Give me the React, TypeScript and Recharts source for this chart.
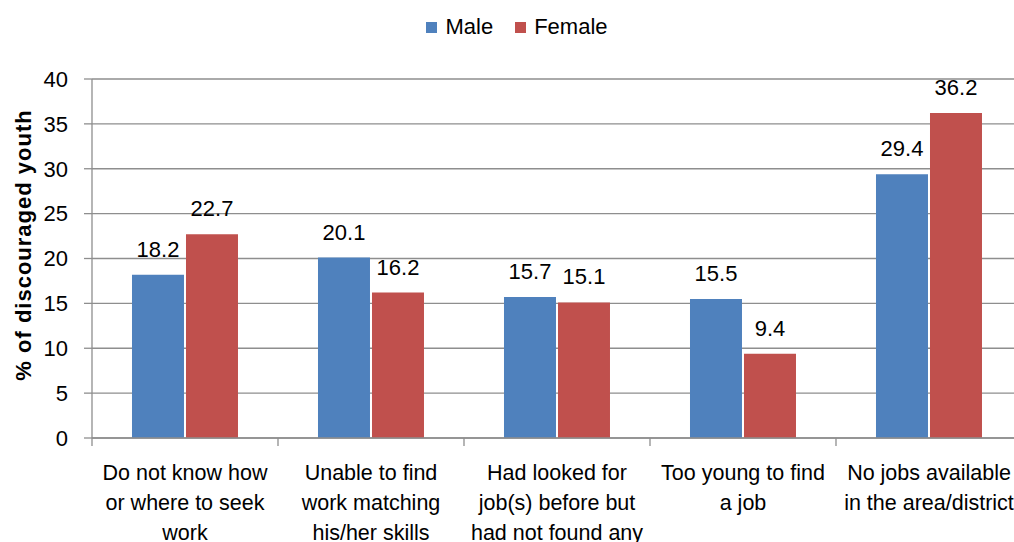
import { BarChart, Bar, XAxis, YAxis, CartesianGrid, Legend, LabelList } from 'recharts';

const categories = [
  'Do not know how or where to seek work',
  'Unable to find work matching his/her skills',
  'Had looked for job(s) before but had not found any',
  'Too young to find a job',
  'No jobs available in the area/district',
];

// wrapped the way the original axis wraps them
const categoryLines: string[][] = [
  ['Do not know how', 'or where to seek', 'work'],
  ['Unable to find', 'work matching', 'his/her skills'],
  ['Had looked for', 'job(s) before but', 'had not found any'],
  ['Too young to find', 'a job'],
  ['No jobs available', 'in the area/district'],
];

const maleValues = [18.2, 20.1, 15.7, 15.5, 29.4];
const femaleValues = [22.7, 16.2, 15.1, 9.4, 36.2];

const yTicks = [0, 5, 10, 15, 20, 25, 30, 35, 40];

const data = categories.map((name, i) => ({
  name,
  male: maleValues[i],
  female: femaleValues[i],
}));

const MALE = '#4F81BD';
const FEMALE = '#C0504D';
const GRID = '#8E8E8E';
const FONT = '"Liberation Sans", Arial, sans-serif';

const CHART_W = 1030;
const MARGIN = { top: 79, right: 8, bottom: 0, left: 0 };
const BAND = (CHART_W - MARGIN.right - 92) / categories.length;

function CategoryTick(props: any) {
  const { x, payload, index } = props;
  const lines: string[] = categoryLines[index] || [payload.value];
  const axisY = 438;
  return (
    <g>
      <line x1={x - BAND / 2} y1={axisY} x2={x - BAND / 2} y2={axisY + 8} stroke={GRID} strokeWidth={1.3} />
      {index === categories.length - 1 && (
        <line x1={x + BAND / 2} y1={axisY} x2={x + BAND / 2} y2={axisY + 8} stroke={GRID} strokeWidth={1.3} />
      )}
      {lines.map((l, i) => (
        <text key={i} x={x} y={axisY + 42 + i * 30} textAnchor="middle" fontSize={21.5} fill="#000" fontFamily={FONT}>
          {l}
        </text>
      ))}
    </g>
  );
}

function LegendContent() {
  const items = [
    { label: 'Male', color: MALE },
    { label: 'Female', color: FEMALE },
  ];
  return (
    <div style={{ display: 'flex', justifyContent: 'center', fontFamily: FONT, fontSize: 22, color: '#000' }}>
      {items.map((it) => (
        <div key={it.label} style={{ display: 'flex', alignItems: 'center', margin: '0 11px' }}>
          <span style={{ width: 11, height: 11, background: it.color, display: 'inline-block', marginRight: 8 }} />
          <span>{it.label}</span>
        </div>
      ))}
    </div>
  );
}

function YLabel() {
  const cx = 23;
  const cy = 245;
  return (
    <text
      x={cx}
      y={cy}
      transform={`rotate(-90, ${cx}, ${cy})`}
      textAnchor="middle"
      dominantBaseline="central"
      fontSize={22}
      fontWeight="bold"
      letterSpacing={1}
      fontFamily={FONT}
      fill="#000"
    >
      % of discouraged youth
    </text>
  );
}

export default function App() {
  return (
    <div style={{ position: 'absolute', left: 0, top: 0, width: 1014, height: 542, overflow: 'hidden', background: '#fff' }}>
      <BarChart
        width={CHART_W}
        height={542}
        data={data}
        margin={MARGIN}
        barCategoryGap="21.5%"
        barGap={2}
      >
        <CartesianGrid vertical={false} stroke={GRID} strokeWidth={1.3} />
        <XAxis
          dataKey="name"
          axisLine={{ stroke: GRID, strokeWidth: 1.3 }}
          tickLine={false}
          tick={<CategoryTick />}
          interval={0}
          height={104}
        />
        <YAxis
          domain={[0, 40]}
          ticks={yTicks}
          width={92}
          axisLine={{ stroke: GRID, strokeWidth: 1.3 }}
          tickLine={{ stroke: GRID, strokeWidth: 1.3 }}
          tickSize={8}
          tickMargin={16}
          tick={{ fontSize: 22, fill: '#000', fontFamily: FONT }}
          label={<YLabel />}
        />
        <Legend
          layout="horizontal"
          verticalAlign="middle"
          align="center"
          content={<LegendContent />}
          wrapperStyle={{ top: 14, left: 0, width: 1034 }}
        />
        <Bar dataKey="male" name="Male" fill={MALE} isAnimationActive={false}>
          <LabelList dataKey="male" position="top" offset={18} fontSize={22} fill="#000" fontFamily={FONT} />
        </Bar>
        <Bar dataKey="female" name="Female" fill={FEMALE} isAnimationActive={false}>
          <LabelList dataKey="female" position="top" offset={18} fontSize={22} fill="#000" fontFamily={FONT} />
        </Bar>
      </BarChart>
    </div>
  );
}
